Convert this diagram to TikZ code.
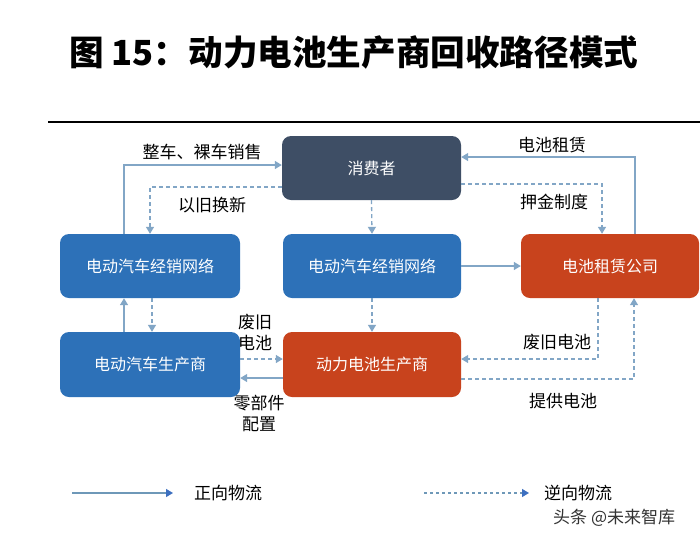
\documentclass[tikz,border=0pt]{standalone}
\usepackage{fontspec}
\setmainfont{Noto Sans CJK SC}
\usetikzlibrary{arrows.meta,calc}
\definecolor{darkbox}{HTML}{3E4E65}
\definecolor{bluebox}{HTML}{2D71B8}
\definecolor{redbox}{HTML}{C8431D}
\definecolor{linec}{HTML}{82A6C6}
\definecolor{legline}{HTML}{6E98B8}
\definecolor{legtip}{HTML}{3C6FC0}
\tikzset{
  box/.style={rounded corners=9pt, minimum height=64pt, text=white, font=\fontsize{16}{16}\selectfont, inner sep=0pt},
  lbl/.style={font=\fontsize{17}{21}\selectfont, text=black, inner sep=0pt, align=center},
  fwd/.style={draw=linec, line width=1.3pt, -{Triangle[width=8pt,length=7pt]}},
  rev/.style={draw=linec, line width=1.3pt, dash pattern=on 4pt off 3pt, -{Triangle[width=8pt,length=7pt]}},
}
\begin{document}
\begin{tikzpicture}[x=1pt,y=-1pt]
\useasboundingbox[fill=white] (0,0) rectangle (700,542);
% title
\node[font=\fontsize{34.6}{35}\selectfont\bfseries, anchor=west, inner sep=0pt] (title) at (69,52) {图 15：动力电池生产商回收路径模式};
\draw[line width=2.2pt] (48,122) coordinate (tl) -- (700,122) coordinate (tr);
% boxes
\node[box, fill=darkbox, minimum width=179pt] (cons) at (371.5,168) {消费者};
\node[box, fill=bluebox, minimum width=180pt] (dealL) at (150,266) {电动汽车经销网络};
\node[box, fill=bluebox, minimum width=178pt] (dealM) at (372,266) {电动汽车经销网络};
\node[box, fill=redbox, minimum width=178pt] (rent) at (610,266) {电池租赁公司};
\node[box, fill=bluebox, minimum width=180pt, minimum height=65pt] (evp) at (150,364.5) {电动汽车生产商};
\node[box, fill=redbox, minimum width=178pt, minimum height=65pt] (bp) at (372,364.5) {动力电池生产商};
% connectors
\draw[fwd] ([xshift=-26pt]dealL.north) |- ([yshift=3pt]cons.west);
\draw[rev] ([yshift=-19pt]cons.west) -| (dealL.north);
\draw[rev] (cons.south) -- (dealM.north);
\draw[fwd] ([xshift=25pt]rent.north) |- ([yshift=11pt]cons.east);
\draw[rev] ([yshift=-16pt]cons.east) -| ([xshift=-8pt]rent.north);
\draw[fwd] (dealM.east) -- (rent.west);
\draw[fwd] ([xshift=-26pt]evp.north) -- ([xshift=-26pt]dealL.south);
\draw[rev] ([xshift=2pt]dealL.south) -- ([xshift=2pt]evp.north);
\draw[rev] (dealM.south) -- (bp.north);
\draw[rev] ([yshift=5.5pt]evp.east) -- ([yshift=5.5pt]bp.west);
\draw[fwd] ([yshift=-13.5pt]bp.west) -- ([yshift=-13.5pt]evp.east);
\draw[rev] ([xshift=-12pt]rent.south) |- ([yshift=5.5pt]bp.east);
\draw[rev] ([yshift=-14.5pt]bp.east) -| ([xshift=24pt]rent.south);
% labels
\node[lbl] (l1) at (202,152) {整车、裸车销售};
\node[lbl] (l2) at (212,205) {以旧换新};
\node[lbl] (l3) at (552,145) {电池租赁};
\node[lbl] (l4) at (554,202) {押金制度};
\node[lbl] (l5) at (255,332) {废旧\\电池};
\node[lbl] (l6) at (259,413) {零部件\\配置};
\node[lbl] (l7) at (557,342) {废旧电池};
\node[lbl] (l8) at (563,401) {提供电池};
% legend
\coordinate (a1) at (72,493);
\coordinate (a2) at (173,493);
\draw[draw=legline, line width=1.3pt, -{Triangle[width=8pt,length=7pt,color=legtip]}] (a1) -- (a2);
\node[lbl, anchor=west] (leg1) at (194,493) {正向物流};
\coordinate (b1) at (424,493);
\coordinate (b2) at (529,493);
\draw[draw=legline, line width=1.2pt, dash pattern=on 3pt off 3pt, -{Triangle[width=8pt,length=7pt,color=legtip]}] (b1) -- (b2);
\node[lbl, anchor=west] (leg2) at (544,493) {逆向物流};
% watermark
\node[font=\fontsize{17}{17}\selectfont, text=black!80, anchor=west, inner sep=0pt] (wm) at (553,518) {头条 @未来智库};
\end{tikzpicture}
\end{document}
